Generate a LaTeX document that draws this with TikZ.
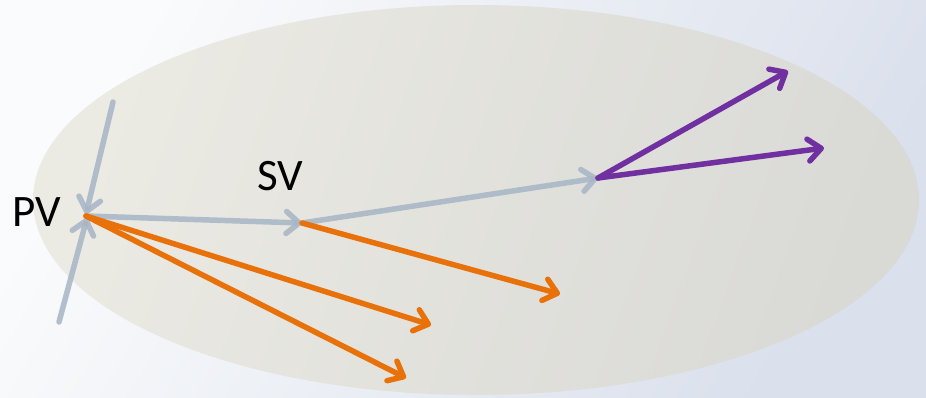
\documentclass[tikz,border=0pt]{standalone}
\usepackage{fontspec}
\setmainfont{Carlito}
\usetikzlibrary{arrows.meta,calc}
\definecolor{bgA}{RGB}{250,251,252}
\definecolor{bgB}{RGB}{218,224,236}
\definecolor{elA}{RGB}{235,234,227}
\definecolor{elB}{RGB}{217,217,214}
\definecolor{grayv}{RGB}{166,181,197}
\definecolor{orangev}{RGB}{232,113,10}
\definecolor{purplev}{RGB}{112,48,160}
\tikzset{
  vec/.style={line width=5.5pt, line cap=round, -{Straight Barb[length=13pt,width=22pt,line cap=round,line join=round]}},
  grayvec/.style={vec, draw=grayv, opacity=0.85},
  orangevec/.style={vec, draw=orangev},
  purplevec/.style={vec, draw=purplev},
  lbl/.style={font=\fontsize{45}{50}\selectfont, text=black, inner sep=0pt}
}
\begin{document}
\begin{tikzpicture}[x=1pt,y=-1pt]
\useasboundingbox (0,0) rectangle (926,398);
\shade[shading=axis, left color=bgA, right color=bgB, shading angle=60] (0,0) rectangle (926,398);
\shade[shading=axis, left color=elA, right color=elB, shading angle=70] (476,200) ellipse [x radius=443, y radius=195];
% vertices
\coordinate (PV) at (86,216);
\coordinate (SV) at (302,223);
\coordinate (TV) at (598,178);
\coordinate (inA) at (113,102);
\coordinate (inB) at (59,322);
\coordinate (PVt) at (86,214);
\coordinate (PVb) at (87,218);
\coordinate (o1) at (431,325);
\coordinate (o2) at (406,378);
\coordinate (o3) at (560,294);
\coordinate (p1) at (788,71);
\coordinate (p2) at (824,148);
% labels
\node[lbl] (pvl) at (37,212) {PV};
\node[lbl] (svl) at (280,176) {SV};
% gray track segments
\draw[grayvec] (inA) -- (PVt);
\draw[grayvec] (inB) -- (PVb);
\draw[grayvec] (PV) -- (SV);
\draw[grayvec] (SV) -- (TV);
% orange
\draw[orangevec] (PV) -- (o1);
\draw[orangevec] (PV) -- (o2);
\draw[orangevec] (SV) -- (o3);
% purple
\draw[purplevec] (TV) -- (p1);
\draw[purplevec] (TV) -- (p2);
\end{tikzpicture}
\end{document}
